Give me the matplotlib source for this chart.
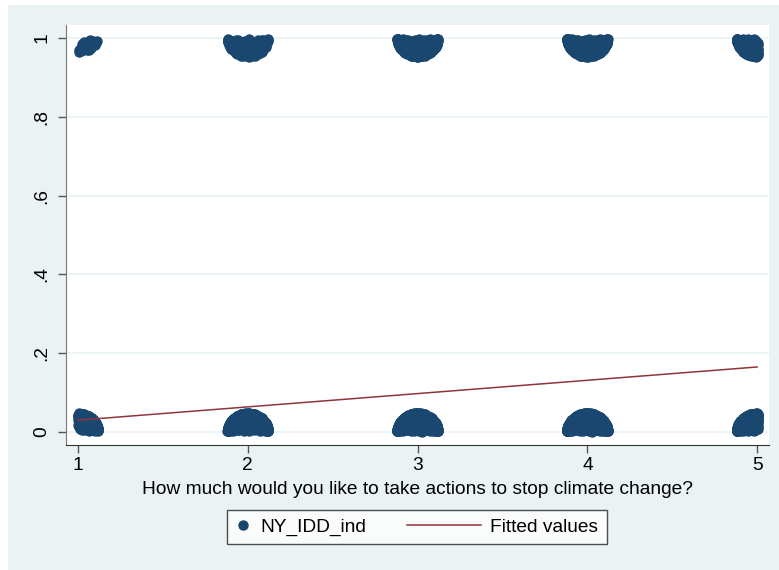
import numpy as np
import matplotlib.pyplot as plt
from matplotlib.patches import Rectangle
from matplotlib.legend_handler import HandlerLine2D

# answer levels on the x axis
levels = [1, 2, 3, 4, 5]
# number of respondents at each level with NY_IDD_ind = 0 and = 1
n_zero = [220, 600, 900, 900, 450]
n_one = [22, 200, 420, 460, 260]
# linear fit of NY_IDD_ind on the answer, at answers 1 and 5
fit_x = [1, 5]
fit_y = [0.03, 0.165]

navy = "#1a476f"
maroon = "#90353b"
bg = "#eaf2f3"

plt.rcParams["font.family"] = ["Liberation Sans", "DejaVu Sans"]
fs = 13.8


def halton(i, base):
    f, r = 1.0, 0.0
    while i > 0:
        f /= base
        r += f * (i % base)
        i //= base
    return r


def jitter_cloud(level, n, y0, depth, sign, half=0.12):
    # spread the n answers at (level, y0) over a dome, clipped to the 1..5 range
    lo = -half if level > 1 else 0.0
    hi = half if level < 5 else 0.006
    xs, ys = [], []
    for i in range(1, n + 1):
        u, v = halton(i, 2), halton(i, 3)
        dx = lo + u * (hi - lo)
        h = depth * np.sqrt(max(0.0, 1 - (dx / half) ** 2))
        xs.append(level + dx)
        ys.append(y0 + sign * np.sqrt(v) * h)
    return xs, ys


class LongLine(HandlerLine2D):
    # wider handle box for the fitted line entry
    def legend_artist(self, legend, orig_handle, fontsize, handlebox):
        handlebox.width = 3.85 * fontsize
        return super().legend_artist(legend, orig_handle, fontsize, handlebox)


fig = plt.figure(figsize=(7.79, 5.70), dpi=100)
fig.patch.set_facecolor("white")
fig.patches.append(Rectangle((8 / 779, 0), 1, 565 / 570, transform=fig.transFigure,
                             facecolor=bg, edgecolor="none", zorder=-10))

ax = fig.add_axes([66 / 779, 1 - 445 / 570, (769 - 66) / 779, (445 - 25) / 570])
ax.set_facecolor("white")

for lev, n0, n1 in zip(levels, n_zero, n_one):
    x0, y0 = jitter_cloud(lev, n0, 0.0, 0.048, 1)
    d1 = 0.048 if lev > 1 else 0.038
    x1, y1 = jitter_cloud(lev, n1, 1.0, d1, -1)
    ax.plot(x0 + x1, y0 + y1, "o", color=navy, markersize=7.5,
            markeredgewidth=0, linestyle="none", zorder=3)

pts, = ax.plot([], [], "o", color=navy, markersize=7.5, markeredgewidth=0,
               linestyle="none", label="NY_IDD_ind")
fit, = ax.plot(fit_x, fit_y, color=maroon, linewidth=1.1, label="Fitted values", zorder=4)

ax.set_xlim(0.929, 5.07)
ax.set_ylim(-0.033, 1.033)
ax.set_xticks(levels)
ax.set_yticks([0, 0.2, 0.4, 0.6, 0.8, 1])
ax.set_yticklabels(["0", ".2", ".4", ".6", ".8", "1"], rotation=90, va="center")
ax.tick_params(axis="both", labelsize=fs, length=6, width=1, color="#555555")
ax.tick_params(axis="y", pad=5)
ax.tick_params(axis="x", pad=3)
ax.grid(axis="y", color=bg, linewidth=1.2, zorder=0)
ax.set_axisbelow(True)

for s in ["top", "right"]:
    ax.spines[s].set_visible(False)
ax.spines["left"].set_color("#777777")
ax.spines["bottom"].set_color("#333333")

ax.set_xlabel("How much would you like to take actions to stop climate change?",
              fontsize=fs, labelpad=5)

leg = fig.legend([pts, fit], ["NY_IDD_ind", "Fitted values"], loc="center",
                 bbox_to_anchor=(417 / 779, 1 - 527 / 570), ncol=2,
                 fontsize=fs, frameon=True, fancybox=False, handlelength=0.8,
                 columnspacing=2.1, borderpad=0.45, handletextpad=0.5,
                 borderaxespad=0.2, handler_map={fit: LongLine()})
leg.get_frame().set_edgecolor("#222222")
leg.get_frame().set_linewidth(1.0)

fig.savefig("out.png", dpi=100)
